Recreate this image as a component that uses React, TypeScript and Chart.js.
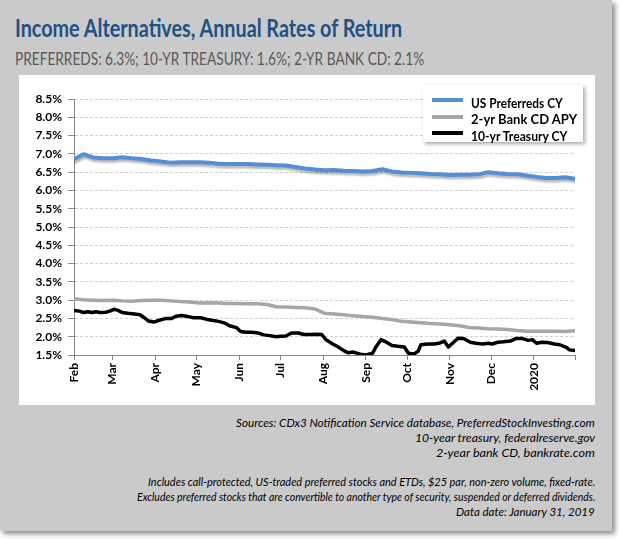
import React, { useEffect, useLayoutEffect, useRef } from "react";
import { Chart, registerables } from "chart.js";
Chart.register(...registerables);

// ---- data (day offsets from Feb 1, 2019) ----
const monthTickDays = [0, 28, 59, 89, 120, 150, 181, 212, 242, 273, 303, 334, 364];
const monthTickLabels = ["Feb", "Mar", "Apr", "May", "Jun", "Jul", "Aug", "Sep", "Oct", "Nov", "Dec", "2020", ""];

const weekDays = [0, 7, 14, 21, 28, 35, 42, 49, 56, 63, 70, 77, 84, 91, 98, 105, 112, 119, 126, 133, 140, 147, 154, 161, 168, 175, 182, 189, 196, 203, 210, 217, 224, 231, 238, 245, 252, 259, 266, 273, 280, 287, 294, 301, 308, 315, 322, 329, 336, 343, 350, 357, 364];

const preferredsCY = [6.85, 6.99, 6.9, 6.88, 6.88, 6.91, 6.88, 6.86, 6.82, 6.79, 6.76, 6.77, 6.77, 6.77, 6.76, 6.73, 6.72, 6.72, 6.72, 6.71, 6.7, 6.69, 6.68, 6.64, 6.6, 6.57, 6.55, 6.56, 6.54, 6.53, 6.52, 6.53, 6.58, 6.52, 6.49, 6.48, 6.47, 6.45, 6.44, 6.42, 6.43, 6.43, 6.44, 6.5, 6.47, 6.45, 6.44, 6.41, 6.37, 6.34, 6.34, 6.36, 6.32];

const bankCdAPY = [3.04, 3.01, 3.0, 2.99, 3.0, 2.98, 2.97, 2.99, 3.0, 3.0, 2.98, 2.96, 2.95, 2.92, 2.93, 2.92, 2.91, 2.91, 2.9, 2.9, 2.88, 2.82, 2.81, 2.8, 2.79, 2.76, 2.64, 2.62, 2.6, 2.57, 2.55, 2.53, 2.5, 2.47, 2.42, 2.4, 2.38, 2.36, 2.35, 2.33, 2.3, 2.25, 2.24, 2.22, 2.21, 2.2, 2.17, 2.15, 2.15, 2.15, 2.15, 2.14, 2.16];

const treasuryDays = [0, 4, 7, 10, 13, 16, 19, 23, 26, 29, 32, 35, 39, 44, 48, 51, 54, 58, 62, 67, 71, 74, 78, 83, 87, 92, 96, 100, 105, 109, 113, 118, 121, 125, 129, 134, 138, 142, 147, 150, 154, 158, 163, 167, 172, 176, 180, 183, 188, 192, 196, 199, 203, 208, 212, 217, 219, 223, 227, 231, 235, 240, 243, 247, 250, 252, 257, 262, 266, 269, 272, 275, 279, 283, 288, 292, 297, 301, 304, 308, 312, 317, 321, 326, 330, 333, 336, 340, 344, 349, 353, 358, 360, 364];
const treasuryCY = [2.72, 2.7, 2.66, 2.68, 2.66, 2.68, 2.66, 2.67, 2.7, 2.75, 2.72, 2.66, 2.64, 2.62, 2.6, 2.52, 2.43, 2.4, 2.45, 2.5, 2.5, 2.56, 2.58, 2.55, 2.52, 2.52, 2.48, 2.45, 2.42, 2.38, 2.3, 2.25, 2.14, 2.12, 2.12, 2.1, 2.05, 2.03, 2.0, 2.01, 2.02, 2.1, 2.1, 2.06, 2.06, 2.07, 2.06, 1.92, 1.8, 1.72, 1.62, 1.56, 1.58, 1.52, 1.5, 1.55, 1.7, 1.92, 1.85, 1.76, 1.74, 1.72, 1.55, 1.53, 1.6, 1.78, 1.8, 1.8, 1.83, 1.88, 1.72, 1.82, 1.96, 1.95, 1.85, 1.82, 1.8, 1.82, 1.8, 1.85, 1.86, 1.88, 1.95, 1.95, 1.9, 1.92, 1.82, 1.85, 1.84, 1.8, 1.78, 1.7, 1.64, 1.62];

const seriesNames = ["US Preferreds CY", "2-yr Bank CD APY", "10-yr Treasury CY"];
const seriesColors = ["#558ed5", "#a6a6a6", "#000000"];

const titleText = "Income Alternatives, Annual Rates of Return";
const subtitleText = "PREFERREDS: 6.3%; 10-YR TREASURY: 1.6%; 2-YR BANK CD: 2.1%";
const footLines = [
  "Sources: CDx3 Notification Service database, PreferredStockInvesting.com",
  "10-year treasury, federalreserve.gov",
  "2-year bank CD, bankrate.com",
  "",
  "Includes call-protected, US-traded preferred stocks and ETDs, $25 par, non-zero volume, fixed-rate.",
  "Excludes preferred stocks that are convertible to another type of security, suspended or deferred dividends.",
  "Data date: January 31, 2019",
];
const footWidths = [359, 180, 159, 0, 447, 458, 139];

function FitText(props: { text: string; width: number; origin: string; style: React.CSSProperties }) {
  const ref = useRef<HTMLSpanElement>(null);
  useLayoutEffect(() => {
    const el = ref.current;
    if (!el) return;
    const w = el.offsetWidth;
    if (w > 0) el.style.transform = `scaleX(${props.width / w})`;
  }, [props.text, props.width]);
  return (
    <span ref={ref} style={{ display: "inline-block", whiteSpace: "nowrap", transformOrigin: props.origin, ...props.style }}>
      {props.text}
    </span>
  );
}

const lineShadow = {
  id: "lineShadow",
  beforeDatasetDraw(chart: any, args: any) {
    if (args.index === 0) {
      const c = chart.ctx;
      c.save();
      c.shadowColor = "rgba(0,0,0,0.28)";
      c.shadowBlur = 2;
      c.shadowOffsetX = 1;
      c.shadowOffsetY = 2.5;
    }
  },
  afterDatasetDraw(chart: any, args: any) {
    if (args.index === 0) chart.ctx.restore();
  },
};

const tickFont = { family: "Lato, 'Open Sans', sans-serif", size: 12, weight: "bold" as const };

export default function App() {
  const canvasRef = useRef<HTMLCanvasElement>(null);
  useEffect(() => {
    const canvas = canvasRef.current;
    if (!canvas) return;
    const chart = new Chart(canvas, {
      type: "line",
      data: {
        datasets: [
          {
            label: seriesNames[0],
            data: weekDays.map((d, i) => ({ x: d, y: preferredsCY[i] })),
            borderColor: seriesColors[0],
            borderWidth: 4,
          },
          {
            label: seriesNames[1],
            data: weekDays.map((d, i) => ({ x: d, y: bankCdAPY[i] })),
            borderColor: seriesColors[1],
            borderWidth: 3.5,
          },
          {
            label: seriesNames[2],
            data: treasuryDays.map((d, i) => ({ x: d, y: treasuryCY[i] })),
            borderColor: seriesColors[2],
            borderWidth: 3.5,
          },
        ],
      },
      options: {
        animation: false,
        responsive: false,
        maintainAspectRatio: false,
        devicePixelRatio: 1,
        layout: { padding: { top: 24, right: 20, left: 0, bottom: 0 } },
        plugins: { legend: { display: false }, tooltip: { enabled: false } },
        elements: {
          point: { radius: 0 },
          line: { tension: 0, borderJoinStyle: "round", borderCapStyle: "round" },
        },
        scales: {
          x: {
            type: "linear",
            min: 0,
            max: 364,
            afterBuildTicks: (s: any) => {
              s.ticks = monthTickDays.map((v) => ({ value: v }));
            },
            afterFit: (s: any) => {
              s.height = 50;
            },
            ticks: {
              autoSkip: false,
              maxRotation: 90,
              minRotation: 90,
              padding: 3,
              color: "#000",
              font: tickFont,
              callback: (_v: any, i: number) => monthTickLabels[i],
            },
            grid: { drawOnChartArea: false, drawTicks: true, tickLength: 5, tickColor: "#868686", color: "#868686" },
            border: { color: "#868686", width: 1 },
          },
          y: {
            min: 1.5,
            max: 8.5,
            afterFit: (s: any) => {
              s.width = 55;
            },
            ticks: {
              stepSize: 0.5,
              padding: 6,
              color: "#000",
              font: tickFont,
              callback: (v: any) => Number(v).toFixed(1) + "%",
            },
            grid: { color: "#d0d0d0", tickLength: 6, tickColor: "#868686" },
            border: { color: "#868686", width: 1, dash: [3, 2] },
          },
        },
      },
      plugins: [lineShadow],
    } as any);
    return () => chart.destroy();
  }, []);

  const legendRows = [
    { y: 100, size: 12.5, w: 92 },
    { y: 117, size: 14, w: 106 },
    { y: 133, size: 12.5, w: 96 },
  ];

  return (
    <div style={{ position: "fixed", left: 0, top: 0, width: 621, height: 539, overflow: "hidden", background: "#fff" }}>
      <div
        style={{
          position: "absolute",
          left: 0,
          top: 0,
          width: 612,
          height: 531,
          background: "#cacaca",
          boxShadow: "3px 3px 5px rgba(0,0,0,0.45)",
        }}
      />
      <div style={{ position: "absolute", left: 15, top: 14, lineHeight: 1.2 }}>
        <FitText
          text={titleText}
          width={387}
          origin="left"
          style={{ fontFamily: "Lato, sans-serif", fontWeight: 700, fontSize: 24, color: "#1f5086", lineHeight: 1.2 }}
        />
      </div>
      <div style={{ position: "absolute", left: 15, top: 49, lineHeight: 1.2 }}>
        <FitText
          text={subtitleText}
          width={409}
          origin="left"
          style={{ fontFamily: "Lato, sans-serif", fontWeight: 400, fontSize: 16.3, color: "#595959", lineHeight: 1.2 }}
        />
      </div>
      <div style={{ position: "absolute", left: 19, top: 75, width: 576, height: 330, background: "#fff" }}>
        <canvas ref={canvasRef} width={576} height={330} style={{ display: "block", width: 576, height: 330 }} />
      </div>
      <div
        style={{
          position: "absolute",
          left: 423,
          top: 85,
          width: 160,
          height: 57,
          background: "#fff",
          boxShadow: "2px 2px 4px rgba(0,0,0,0.35)",
        }}
      />
      {legendRows.map((r, i) => (
        <React.Fragment key={i}>
          <div style={{ position: "absolute", left: 432, top: r.y - 2, width: 31, height: 4, background: seriesColors[i] }} />
          <div style={{ position: "absolute", left: 471, top: r.y - r.size * 0.6, lineHeight: 1.2 }}>
            <FitText
              text={seriesNames[i]}
              width={r.w}
              origin="left"
              style={{ fontFamily: "Lato, sans-serif", fontWeight: 700, fontSize: r.size, color: "#000", lineHeight: 1.2 }}
            />
          </div>
        </React.Fragment>
      ))}
      {footLines.map((t, i) =>
        t ? (
          <div key={i} style={{ position: "absolute", right: 621 - 595, top: 412 + i * 14.8, lineHeight: 1.2, textAlign: "right" }}>
            <FitText
              text={t}
              width={footWidths[i]}
              origin="right"
              style={{ fontFamily: "Lato, sans-serif", fontStyle: "italic", fontSize: 12, color: "#000", lineHeight: 1.2 }}
            />
          </div>
        ) : null
      )}
    </div>
  );
}
